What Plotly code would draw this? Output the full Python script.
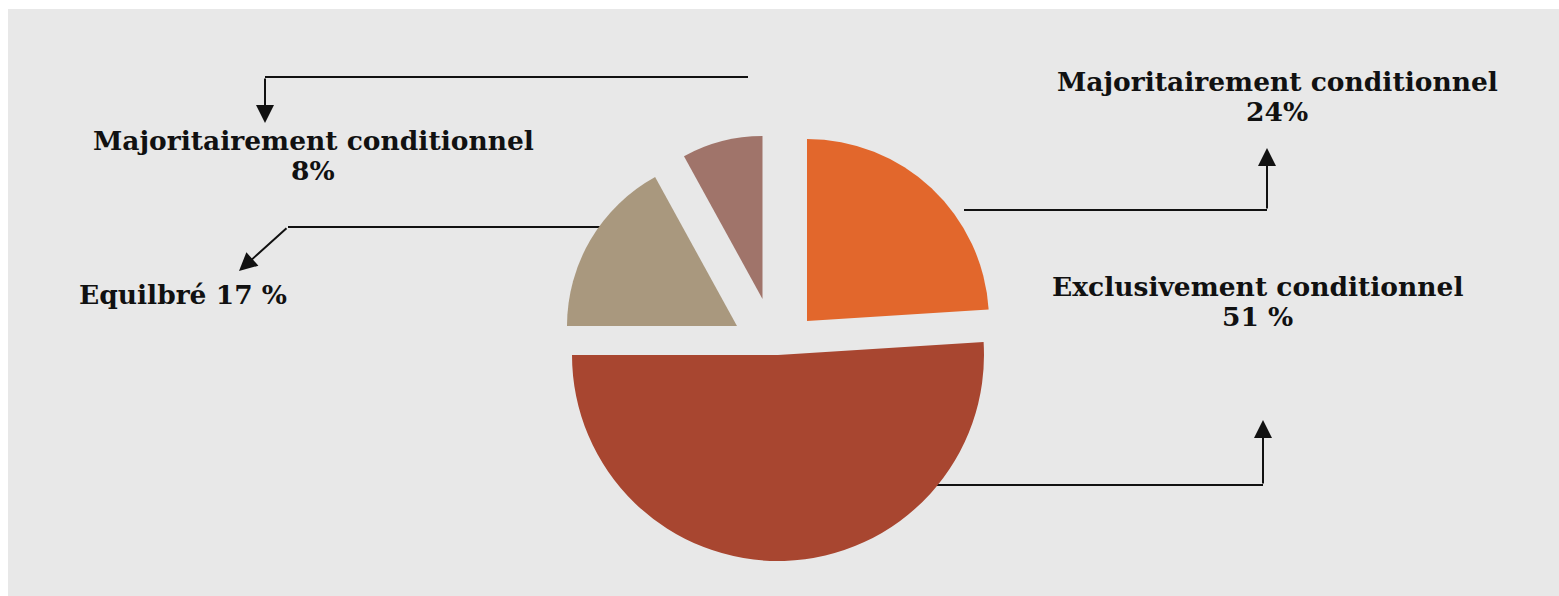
import plotly.graph_objects as go

# Répartition des comportements (parts en %)
categories = ["Majoritairement conditionnel", "Exclusivement conditionnel",
              "Equilbré", "Majoritairement conditionnel"]
shares = [24, 51, 17, 8]
share_labels = ["24%", "51 %", "17 %", "8%"]
colors = ["#E2672C", "#A84630", "#A9987E", "#A0746A"]

W, H = 1559, 596
BG = "#E8E8E8"
FONT = dict(family="DejaVu Serif", size=26.5, color="#111111", weight="bold")


def px(x):
    return x / W


def py(y):
    return 1 - y / H


# Each slice is its own pie (same values, one visible wedge) so that every
# wedge can have its own apex position and radius (exploded layout).
wedge_geom = [  # (apex x, apex y, radius) in pixels
    (807, 321, 182),
    (778, 355, 206),
    (737, 326, 170),
    (762.5, 299, 163),
]

fig = go.Figure()
for i, (cx, cy, r) in enumerate(wedge_geom):
    cols = ["rgba(0,0,0,0)"] * len(shares)
    cols[i] = colors[i]
    fig.add_trace(go.Pie(
        values=shares,
        labels=[f"{c} {s}" for c, s in zip(categories, share_labels)],
        sort=False,
        direction="clockwise",
        rotation=0,
        textinfo="none",
        hoverinfo="skip",
        showlegend=False,
        marker=dict(colors=cols, line=dict(width=0)),
        domain=dict(x=[px(cx - r), px(cx + r)], y=[py(cy + r), py(cy - r)]),
    ))

shapes = [
    # grey panel
    dict(type="rect", xref="paper", yref="paper", x0=px(8), x1=1, y0=0, y1=py(9),
         fillcolor=BG, line=dict(width=0), layer="below"),
]

# leader lines: (path points, arrow tip)
leaders = [
    ([(748, 77), (265, 77)], (265, 123)),
    ([(620, 227), (288, 227)], (239, 271)),
    ([(964, 210), (1267, 210)], (1267, 148)),
    ([(900, 485), (1263, 485)], (1263, 420)),
]
annotations = []
for pts, tip in leaders:
    path = "M " + " L ".join(f"{px(x)},{py(y)}" for x, y in pts)
    shapes.append(dict(type="path", xref="paper", yref="paper", path=path,
                       line=dict(color="#111111", width=2), layer="below"))
    tx, ty = pts[-1]
    annotations.append(dict(
        xref="paper", yref="paper", x=px(tip[0]), y=py(tip[1]),
        ax=tx - tip[0], ay=ty - tip[1], axref="pixel", ayref="pixel",
        text="", showarrow=True, arrowhead=2, arrowsize=1.8, arrowwidth=2,
        arrowcolor="#111111", standoff=0, startstandoff=0,
    ))

# labels: (text, centre x, centre y)
label_pos = [
    (categories[0], 1277.5, 81.5), (share_labels[0], 1277, 111.5),
    (categories[1], 1257.5, 286.5), (share_labels[1], 1257, 316.5),
    (f"{categories[2]} {share_labels[2]}", 182.5, 295),
    (categories[3], 313.5, 140.5), (share_labels[3], 313, 170),
]
for text, x, y in label_pos:
    annotations.append(dict(
        xref="paper", yref="paper", x=px(x), y=py(y), text=text,
        showarrow=False, xanchor="center", yanchor="middle", font=FONT,
        borderpad=0,
    ))

fig.update_layout(
    width=W, height=H,
    margin=dict(l=0, r=0, t=0, b=0),
    paper_bgcolor="white",
    plot_bgcolor="white",
    shapes=shapes,
    annotations=annotations,
)

fig.write_html("out.html")
